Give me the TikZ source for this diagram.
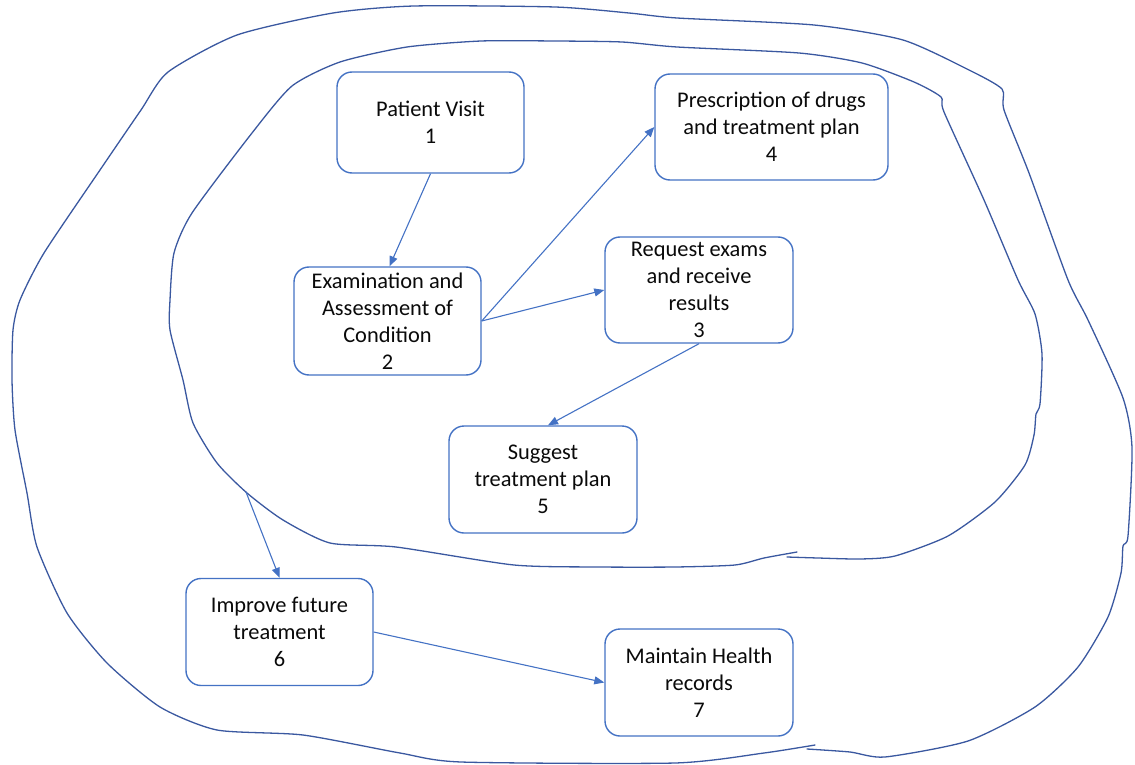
\documentclass[tikz,border=0pt]{standalone}
\usepackage{fontspec}
\setmainfont{Carlito}
\usetikzlibrary{arrows.meta}
\definecolor{boxblue}{RGB}{68,114,196}
\definecolor{loopblue}{RGB}{58,88,160}
\definecolor{ink}{RGB}{10,10,10}
\begin{document}
\begin{tikzpicture}[x=1pt,y=-1pt,
  stepbox/.style={draw=boxblue, line width=1.4pt, rounded corners=15pt,
    fill=white, align=center, inner sep=0pt, text=ink,
    font=\fontsize{22.4}{27}\selectfont},
  flow/.style={draw=boxblue, line width=1.1pt,
    -{Triangle[length=10pt,width=8pt]}},
  loopline/.style={draw=loopblue, line width=1.3pt, line join=round, line cap=round}]
\useasboundingbox (0,0) rectangle (1135,765);

% inner loop, drawn freehand with a small overlap at the bottom
\draw[loopline] plot[smooth, tension=0.4] coordinates {
  (787,557) (818,558) (860,559) (895,556) (948,536) (995,502) (1025,465)
  (1034,435) (1036,414) (1040,404) (1042,354) (1035,314) (1018,280)
  (984,200) (944,112) (941,97) (914,82) (862,63) (799,53) (677,47)
  (622,42) (555,41) (481,41) (407,47) (340,62) (292,86) (252,133)
  (192,213) (174,253) (170,300) (170,330) (183,380) (193,423) (217,463)
  (247,493) (283,520) (330,543) (396,547) (514,565) (600,567) (675,567)
  (735,565) (764,558) (797,552)};

% outer loop
\draw[loopline] plot[smooth, tension=0.4] coordinates {
  (807,749) (850,752) (885,757) (968,741) (1035,707) (1078,667)
  (1108,617) (1121,573) (1123,546) (1128,536) (1132,448) (1123,398)
  (1088,320) (1068,280) (1029,173) (1004,110) (1002,89) (969,70)
  (903,40) (814,25) (677,18) (629,13) (555,7) (414,6) (333,13)
  (237,35) (168,72) (141,110) (100,170) (44,253) (20,300) (13,330)
  (12,380) (15,430) (27,493) (37,547) (67,613) (107,663) (160,707)
  (217,730) (303,735) (400,753) (461,762) (675,763) (764,753) (815,745)};

% process steps
\node[stepbox, minimum width=187pt, minimum height=101pt] (n1) at (430.5,122.5) {Patient Visit\\1};
\node[stepbox, minimum width=187pt, minimum height=108pt] (n2) at (387.5,321) {Examination and\\Assessment of\\Condition\\2};
\node[stepbox, minimum width=188pt, minimum height=106pt] (n3) at (699,290) {Request exams\\and receive\\results\\3};
\node[stepbox, minimum width=233pt, minimum height=106pt] (n4) at (771.5,127) {Prescription of drugs\\and treatment plan\\4};
\node[stepbox, minimum width=188pt, minimum height=107pt] (n5) at (543,479.5) {Suggest\\treatment plan\\5};
\node[stepbox, minimum width=187pt, minimum height=107pt] (n6) at (279.5,632) {Improve future\\treatment\\6};
\node[stepbox, minimum width=188pt, minimum height=107pt] (n7) at (699,682.5) {Maintain Health\\records\\7};

\coordinate (loopout) at (246,492);

% connectors
\draw[flow] (n1.south) -- ([xshift=2pt]n2.north);
\draw[flow] (n2.east) -- (n4.west);
\draw[flow] (n2.east) -- (n3.west);
\draw[flow] (n3.south) -- ([xshift=5pt]n5.north);
\draw[flow] (loopout) -- (n6.north);
\draw[flow] (n6.east) -- (n7.west);
\end{tikzpicture}
\end{document}
